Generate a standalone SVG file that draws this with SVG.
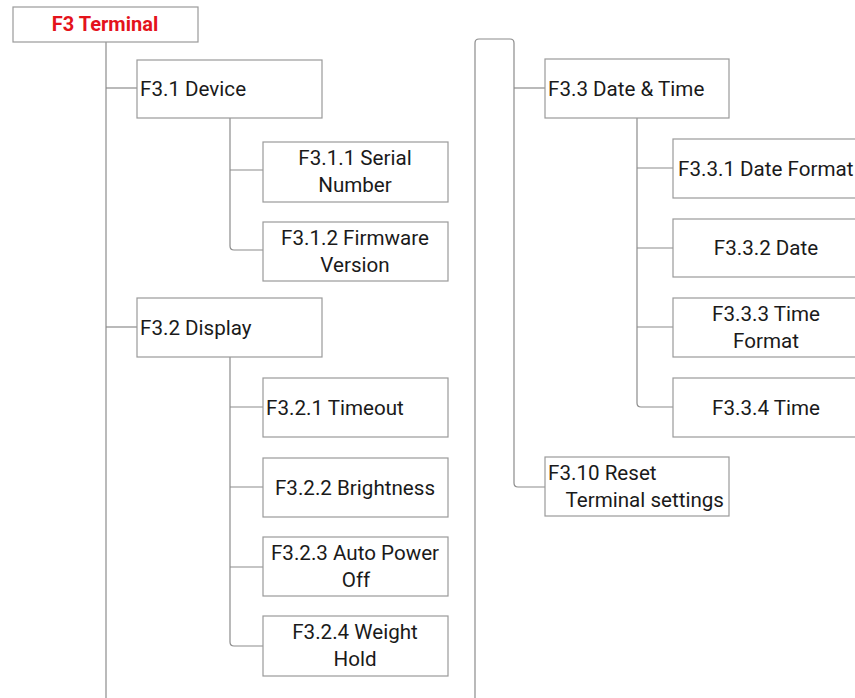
<svg xmlns="http://www.w3.org/2000/svg" width="855" height="698" viewBox="0 0 855 698">
<style>
.box{fill:#fff;stroke:#9a9a9a;stroke-width:1.2}
.ln{fill:none;stroke:#8c8c8c;stroke-width:1.2}
text{font-family:Roboto,"Liberation Sans",sans-serif;font-size:20.6px;fill:#1a1a1a}
.c{text-anchor:middle}
.e{text-anchor:end}
.t{font-weight:bold;fill:#e4131b;font-size:20px}
</style>
<rect width="855" height="698" fill="#fff"/>
<g id="connectors">
<path class="ln" d="M106 42V698"/>
<path class="ln" d="M106 88H137"/>
<path class="ln" d="M106 327H137"/>
<path class="ln" d="M230 118V246Q230 250 234 250H263"/>
<path class="ln" d="M230 170H263"/>
<path class="ln" d="M230 357V642Q230 646 234 646H263"/>
<path class="ln" d="M230 407H263"/>
<path class="ln" d="M230 487H263"/>
<path class="ln" d="M230 567H263"/>
<path class="ln" d="M475 698V43Q475 39 479 39H510Q514 39 514 43V483Q514 487 518 487H545"/>
<path class="ln" d="M514 88H545"/>
<path class="ln" d="M637 118V403Q637 407 641 407H673"/>
<path class="ln" d="M637 168H673"/>
<path class="ln" d="M637 248H673"/>
<path class="ln" d="M637 327H673"/>
</g>
<g id="n-f3"><rect class="box" x="13" y="7" width="185" height="35"/><text class="t c" x="105" y="31">F3 Terminal</text></g>
<g id="n-f31"><rect class="box" x="137" y="60" width="185" height="58"/><text x="140" y="96">F3.1 Device</text></g>
<g id="n-f311"><rect class="box" x="263" y="142" width="185" height="60"/><text class="c" x="355" y="165">F3.1.1 Serial</text><text class="c" x="355" y="192">Number</text></g>
<g id="n-f312"><rect class="box" x="263" y="222" width="185" height="59"/><text class="c" x="355" y="245">F3.1.2 Firmware</text><text class="c" x="355" y="272">Version</text></g>
<g id="n-f32"><rect class="box" x="137" y="298" width="185" height="59"/><text x="140" y="335">F3.2 Display</text></g>
<g id="n-f321"><rect class="box" x="263" y="378" width="185" height="59"/><text x="266" y="415">F3.2.1 Timeout</text></g>
<g id="n-f322"><rect class="box" x="263" y="458" width="185" height="59"/><text class="c" x="355" y="495">F3.2.2 Brightness</text></g>
<g id="n-f323"><rect class="box" x="263" y="537" width="185" height="59"/><text class="c" x="355" y="560">F3.2.3 Auto Power</text><text class="c" x="356" y="587">Off</text></g>
<g id="n-f324"><rect class="box" x="263" y="616" width="185" height="60"/><text class="c" x="355" y="639">F3.2.4 Weight</text><text class="c" x="355" y="666">Hold</text></g>
<g id="n-f33"><rect class="box" x="545" y="59" width="184" height="59"/><text x="548" y="96">F3.3 Date &amp; Time</text></g>
<g id="n-f331"><rect class="box" x="673" y="139" width="190" height="59"/><text x="678" y="176">F3.3.1 Date Format</text></g>
<g id="n-f332"><rect class="box" x="673" y="219" width="190" height="58"/><text class="c" x="766" y="255">F3.3.2 Date</text></g>
<g id="n-f333"><rect class="box" x="673" y="298" width="190" height="59"/><text class="c" x="766" y="321">F3.3.3 Time</text><text class="c" x="766" y="348">Format</text></g>
<g id="n-f334"><rect class="box" x="673" y="378" width="190" height="59"/><text class="c" x="766" y="415">F3.3.4 Time</text></g>
<g id="n-f310"><rect class="box" x="545" y="457" width="184" height="59"/><text x="548" y="480">F3.10 Reset</text><text class="e" x="724" y="507">Terminal settings</text></g>
</svg>
